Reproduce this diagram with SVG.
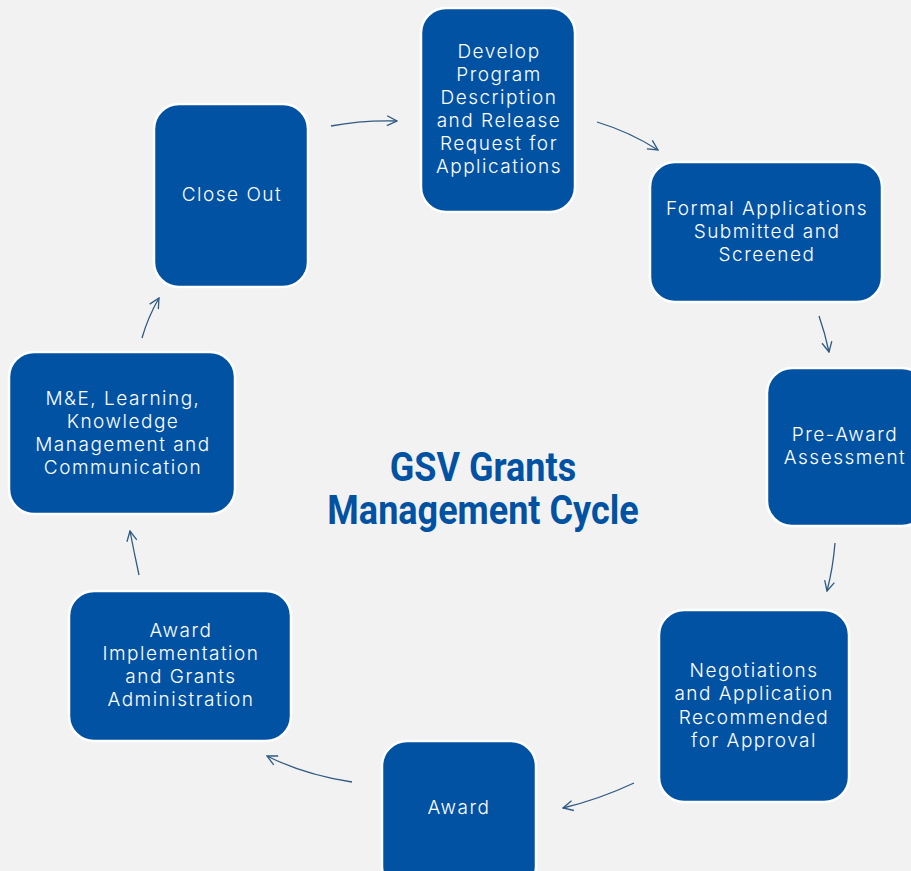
<svg xmlns="http://www.w3.org/2000/svg" width="911" height="871" viewBox="0 0 911 871">
<style>
.box{fill:#0252A3;stroke:#ffffff;stroke-width:2.5}
.lbl{font-family:Inter,"Open Sans","Liberation Sans",sans-serif;font-size:19px;fill:#ffffff;text-anchor:middle;font-weight:300;letter-spacing:1.5px}
.conn{fill:none;stroke:#2F5A82;stroke-width:1.3}
.title{font-family:Roboto,"Liberation Sans",sans-serif;font-weight:bold;font-size:40px;fill:#0252A3;text-anchor:middle}
</style>
<defs>
<marker id="ah" viewBox="0 0 12 12" refX="11" refY="6" markerWidth="12" markerHeight="12" markerUnits="userSpaceOnUse" orient="auto">
<polyline points="1,1 11,6 1,11" fill="none" stroke="#2F5A82" stroke-width="1.3"/>
</marker>
</defs>
<rect width="911" height="871" fill="#F2F2F2"/>
<g id="title" transform="translate(483,0) scale(0.9,1)">
<text class="title" x="0" y="481">GSV Grants</text>
<text class="title" x="0" y="524">Management Cycle</text>
</g>
<g id="connectors">
<path class="conn" marker-end="url(#ah)" d="M331,126 Q362,120 397,121"/>
<path class="conn" marker-end="url(#ah)" d="M597,122 Q630,132 658,150"/>
<path class="conn" marker-end="url(#ah)" d="M819,316 Q825,333 829,352"/>
<path class="conn" marker-end="url(#ah)" d="M835,543 Q833,568 827,591"/>
<path class="conn" marker-end="url(#ah)" d="M634,783 Q600,799 563,808"/>
<path class="conn" marker-end="url(#ah)" d="M352,782 Q305,775 267,756"/>
<path class="conn" marker-end="url(#ah)" d="M139,575 Q134,552 130,531"/>
<path class="conn" marker-end="url(#ah)" d="M142,338 Q148,317 159,298"/>
</g>
<g id="n-develop">
<rect class="box" x="421" y="8" width="154" height="204" rx="25"/>
<text class="lbl" x="499" y="58">Develop</text>
<text class="lbl" x="499" y="81">Program</text>
<text class="lbl" x="499" y="104">Description</text>
<text class="lbl" x="499" y="127">and Release</text>
<text class="lbl" x="499" y="150">Request for</text>
<text class="lbl" x="499" y="173">Applications</text>
</g>
<g id="n-formal">
<rect class="box" x="650" y="162" width="232" height="140" rx="25"/>
<text class="lbl" x="767" y="215">Formal Applications</text>
<text class="lbl" x="767" y="238">Submitted and</text>
<text class="lbl" x="767" y="261">Screened</text>
</g>
<g id="n-preaward">
<rect class="box" x="767" y="368" width="160" height="158" rx="25"/>
<text class="lbl" x="845" y="441">Pre-Award</text>
<text class="lbl" x="845" y="464">Assessment</text>
</g>
<g id="n-negotiations">
<rect class="box" x="659" y="610" width="190" height="192" rx="25"/>
<text class="lbl" x="754" y="677">Negotiations</text>
<text class="lbl" x="754" y="700">and Application</text>
<text class="lbl" x="754" y="724">Recommended</text>
<text class="lbl" x="754" y="747">for Approval</text>
</g>
<g id="n-award">
<rect class="box" x="382" y="741" width="154" height="150" rx="25"/>
<text class="lbl" x="459" y="814">Award</text>
</g>
<g id="n-implementation">
<rect class="box" x="69" y="591" width="222" height="150" rx="25"/>
<text class="lbl" x="181" y="637">Award</text>
<text class="lbl" x="181" y="660">Implementation</text>
<text class="lbl" x="181" y="683">and Grants</text>
<text class="lbl" x="181" y="706">Administration</text>
</g>
<g id="n-me">
<rect class="box" x="9" y="352" width="226" height="162" rx="25"/>
<text class="lbl" x="123" y="405">M&amp;E, Learning,</text>
<text class="lbl" x="123" y="428">Knowledge</text>
<text class="lbl" x="123" y="451">Management and</text>
<text class="lbl" x="123" y="474">Communication</text>
</g>
<g id="n-closeout">
<rect class="box" x="154" y="104" width="154" height="183" rx="25"/>
<text class="lbl" x="232" y="201">Close Out</text>
</g>
</svg>
